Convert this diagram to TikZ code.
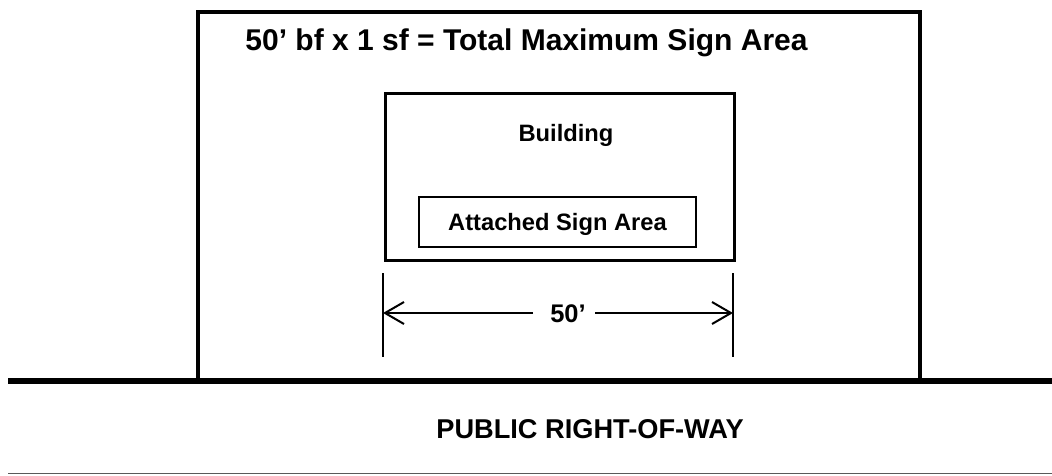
\documentclass[tikz,border=0pt]{standalone}
\usepackage{fontspec}
\setmainfont{Liberation Sans}
\usetikzlibrary{arrows.meta}
\tikzset{
  lotbox/.style={draw=black, line width=4pt, rectangle, inner sep=0pt, minimum width=722pt, minimum height=369pt},
  bldbox/.style={draw=black, line width=3pt, rectangle, inner sep=0pt, minimum width=349pt, minimum height=167pt},
  signbox/.style={draw=black, line width=1.8pt, rectangle, inner sep=0pt, minimum width=277pt, minimum height=50pt},
  lbl/.style={font=\fontsize{23.7}{28}\selectfont\bfseries, anchor=base, inner sep=0pt},
  biglbl/.style={font=\fontsize{30}{34}\selectfont\bfseries, anchor=base, inner sep=0pt},
  rowlbl/.style={font=\fontsize{27.2}{32}\selectfont\bfseries, anchor=base, inner sep=0pt},
  dimline/.style={line width=2pt},
  dimarrow/.style={line width=2pt, -{Straight Barb[length=19pt,width=22pt,line width=2pt]}},
}
\begin{document}
\begin{tikzpicture}[x=1pt,y=-1pt]
\useasboundingbox (0,0) rectangle (1052,475);
% lot
\node[lotbox] (lot) at (559,196.5) {};
\node[biglbl] (title) at (526.5,50.5) {50’ bf x 1 sf = Total Maximum Sign Area};
% building
\node[bldbox] (bld) at (560,176.5) {};
\node[lbl] (bldlbl) at (566,141) {Building};
\node[signbox] (sign) at (557.5,222) {};
\node[lbl] (signlbl) at (557.5,230) {Attached Sign Area};
% dimension
\coordinate (e1a) at (383,273);
\coordinate (e1b) at (383,357);
\coordinate (e2a) at (733,273);
\coordinate (e2b) at (733,357);
\draw[dimline] (e1a) -- (e1b);
\draw[dimline] (e2a) -- (e2b);
\node[lbl, font=\fontsize{25.5}{28}\selectfont\bfseries] (dim) at (568,322) {50’};
\coordinate (d1) at (383,313);
\coordinate (d2) at (733,313);
\coordinate (g1) at (533,313);
\coordinate (g2) at (595,313);
\draw[dimarrow] (g1) -- (d1);
\draw[dimarrow] (g2) -- (d2);
% right-of-way
\coordinate (r1) at (8,381);
\coordinate (r2) at (1052,381);
\draw[line width=6pt] (r1) -- (r2);
\node[rowlbl] (row) at (590,438) {PUBLIC RIGHT-OF-WAY};
\coordinate (s1) at (8,473.5);
\coordinate (s2) at (1052,473.5);
\draw[line width=1.6pt, draw=black!65] (s1) -- (s2);
\end{tikzpicture}
\end{document}
